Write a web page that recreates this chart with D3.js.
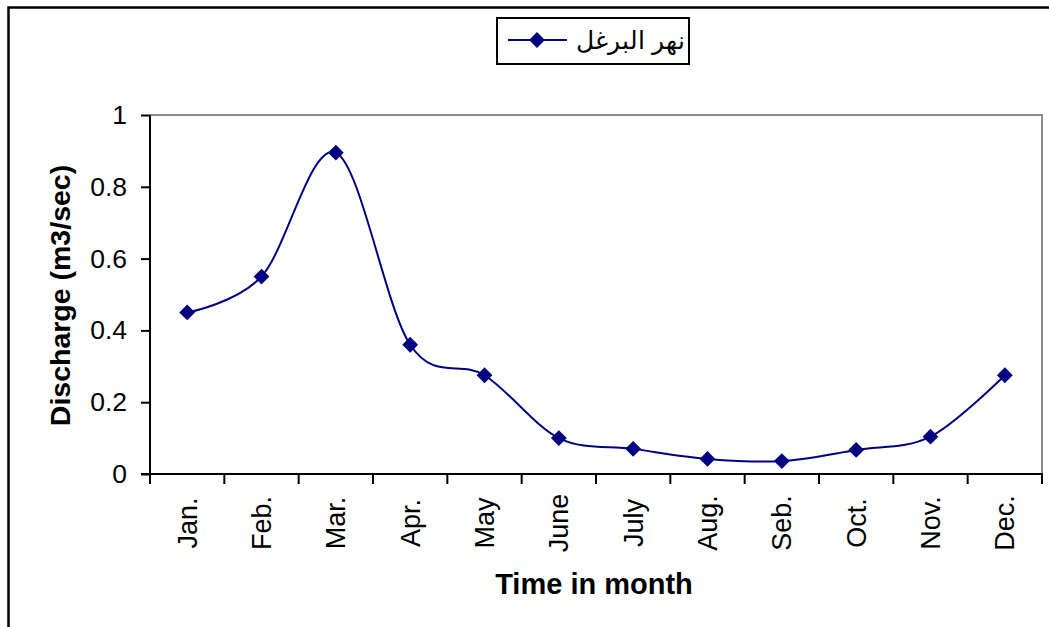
<!DOCTYPE html>
<html>
<head>
<meta charset="utf-8">
<script src="https://cdn.jsdelivr.net/npm/d3@7"></script>
<style>
  html, body { margin: 0; padding: 0; background: #fff; }
  svg { display: block; }
  text { font-family: "Liberation Sans", Arial, sans-serif; fill: #000; }
</style>
</head>
<body>
<svg id="chart" width="1049" height="627"></svg>
<script>
// Monthly discharge of the Barghal river
const months = ["Jan.", "Feb.", "Mar.", "Apr.", "May", "June", "July", "Aug.", "Seb.", "Oct.", "Nov.", "Dec."];
const discharge = [0.45, 0.55, 0.895, 0.36, 0.275, 0.1, 0.07, 0.042, 0.036, 0.067, 0.104, 0.275];
const yTicks = [0, 0.2, 0.4, 0.6, 0.8, 1];
const seriesName = "نهر البرغل";
const xTitle = "Time in month";
const yTitle = "Discharge (m3/sec)";

const W = 1049, H = 627;
const plot = { left: 150, right: 1042, top: 115, bottom: 474 };
const navy = "#000080";

const svg = d3.select("#chart");

// outer chart frame (runs off the right and bottom edges)
svg.append("rect")
  .attr("x", 8.5).attr("y", 7.5)
  .attr("width", W + 20).attr("height", H + 20)
  .attr("fill", "none").attr("stroke", "#000").attr("stroke-width", 2.5);

const x = d3.scaleBand().domain(months).range([plot.left, plot.right]).padding(0);
const y = d3.scaleLinear().domain([0, 1]).range([plot.bottom, plot.top]);

// plot-area border (top and right in grey)
svg.append("path")
  .attr("d", `M${plot.left},${plot.top}H${plot.right}V${plot.bottom}`)
  .attr("fill", "none").attr("stroke", "#8c8c8c").attr("stroke-width", 2);

// y axis
const yAxis = d3.axisLeft(y).tickValues(yTicks).tickSize(9).tickPadding(14)
  .tickFormat(d => d3.format("~g")(d));
const gy = svg.append("g").attr("transform", `translate(${plot.left},0)`).call(yAxis);
gy.select(".domain").remove();
gy.selectAll(".tick line").attr("stroke", "#000").attr("stroke-width", 2);
gy.selectAll(".tick text").attr("font-size", 26.5).attr("font-family", "Liberation Sans, Arial, sans-serif");
svg.append("line")
  .attr("x1", plot.left).attr("x2", plot.left)
  .attr("y1", plot.top).attr("y2", plot.bottom + 10)
  .attr("stroke", "#000").attr("stroke-width", 2);

// x axis with ticks at the category boundaries
const bounds = months.map(m => x(m)).concat([plot.right]);
svg.append("line")
  .attr("x1", plot.left - 9).attr("x2", plot.right + 1)
  .attr("y1", plot.bottom).attr("y2", plot.bottom)
  .attr("stroke", "#000").attr("stroke-width", 2);
svg.append("g").selectAll("line").data(bounds).join("line")
  .attr("x1", d => d).attr("x2", d => d)
  .attr("y1", plot.bottom).attr("y2", plot.bottom + 10)
  .attr("stroke", "#000").attr("stroke-width", 2);

// rotated month labels
svg.append("g").selectAll("text").data(months).join("text")
  .attr("transform", d => `translate(${x(d) + x.bandwidth() / 2},523) rotate(-90)`)
  .attr("text-anchor", "middle")
  .attr("dy", "0.35em")
  .attr("font-size", 27)
  .text(d => d);

// axis titles
svg.append("text")
  .attr("x", (plot.left + plot.right) / 2 - 2).attr("y", 594)
  .attr("text-anchor", "middle")
  .attr("font-size", 29).attr("font-weight", "bold")
  .text(xTitle);
svg.append("text")
  .attr("transform", `translate(70,${(plot.top + plot.bottom) / 2 + 1}) rotate(-90)`)
  .attr("text-anchor", "middle")
  .attr("font-size", 28.5).attr("font-weight", "bold")
  .text(yTitle);

// smoothed series line
const pts = months.map((m, i) => [x(m) + x.bandwidth() / 2, y(discharge[i])]);
svg.append("path")
  .attr("d", d3.line().curve(d3.curveCardinal.tension(0))(pts))
  .attr("fill", "none").attr("stroke", navy).attr("stroke-width", 2);

// diamond markers
const diamond = d3.symbol().type(d3.symbolSquare).size(125);
svg.append("g").selectAll("path").data(pts).join("path")
  .attr("transform", d => `translate(${d[0]},${d[1]}) rotate(45)`)
  .attr("d", diamond)
  .attr("fill", navy);

// legend
const lg = svg.append("g");
lg.append("rect")
  .attr("x", 497).attr("y", 18).attr("width", 192).attr("height", 46)
  .attr("fill", "#fff").attr("stroke", "#000").attr("stroke-width", 2);
lg.append("line")
  .attr("x1", 508).attr("x2", 567).attr("y1", 40).attr("y2", 40)
  .attr("stroke", navy).attr("stroke-width", 2);
lg.append("path")
  .attr("transform", "translate(537,40) rotate(45)")
  .attr("d", diamond).attr("fill", navy);
lg.append("text")
  .attr("x", 576).attr("y", 49)
  .attr("text-anchor", "start")
  .attr("font-size", 25)
  .attr("font-family", "Liberation Sans, DejaVu Sans, sans-serif")
  .text(seriesName);
</script>
</body>
</html>
